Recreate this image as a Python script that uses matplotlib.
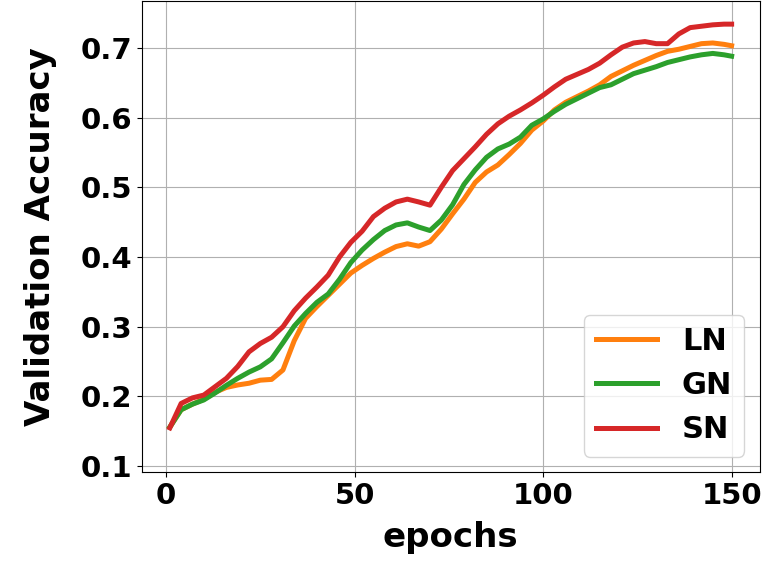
import matplotlib
matplotlib.use("Agg")
import matplotlib.pyplot as plt

epochs = [1, 4, 7, 10, 13, 16, 19, 22, 25, 28, 31, 34, 37, 40, 43, 46, 49, 52, 55, 58,
          61, 64, 67, 70, 73, 76, 79, 82, 85, 88, 91, 94, 97, 100, 103, 106, 109, 112, 115, 118,
          121, 124, 127, 130, 133, 136, 139, 142, 145, 148, 150]

ln_acc = [0.156, 0.181, 0.189, 0.196, 0.206, 0.213, 0.2165, 0.219, 0.2234, 0.2245,
          0.238, 0.280, 0.312, 0.329, 0.345, 0.361, 0.377, 0.388, 0.398, 0.407,
          0.415, 0.419, 0.4156, 0.422, 0.440, 0.462, 0.483, 0.507, 0.522, 0.532,
          0.547, 0.563, 0.582, 0.595, 0.611, 0.622, 0.630, 0.638, 0.647, 0.659,
          0.667, 0.675, 0.682, 0.689, 0.695, 0.698, 0.702, 0.706, 0.707, 0.705, 0.703]

gn_acc = [0.156, 0.181, 0.189, 0.195, 0.205, 0.216, 0.226, 0.235, 0.2425, 0.254,
          0.277, 0.301, 0.319, 0.335, 0.347, 0.368, 0.392, 0.410, 0.425, 0.438,
          0.446, 0.449, 0.443, 0.438, 0.453, 0.475, 0.504, 0.525, 0.543, 0.555,
          0.562, 0.572, 0.589, 0.598, 0.609, 0.619, 0.627, 0.635, 0.643, 0.647,
          0.655, 0.663, 0.668, 0.673, 0.679, 0.683, 0.687, 0.690, 0.692, 0.690, 0.688]

sn_acc = [0.155, 0.190, 0.198, 0.202, 0.214, 0.226, 0.243, 0.264, 0.276, 0.285,
          0.300, 0.323, 0.341, 0.357, 0.374, 0.400, 0.421, 0.437, 0.458, 0.470,
          0.479, 0.483, 0.479, 0.4744, 0.500, 0.524, 0.541, 0.558, 0.576, 0.591,
          0.602, 0.611, 0.621, 0.632, 0.644, 0.655, 0.662, 0.669, 0.678, 0.690,
          0.701, 0.707, 0.709, 0.706, 0.706, 0.720, 0.729, 0.731, 0.733, 0.734, 0.734]

fig = plt.figure(figsize=(7.62, 5.63), dpi=100)
ax = fig.add_axes([0.186, 0.162, 0.811, 0.836])

ax.plot(epochs, ln_acc, color='tab:orange', lw=3.6, label='LN')
ax.plot(epochs, gn_acc, color='tab:green', lw=3.6, label='GN')
ax.plot(epochs, sn_acc, color='tab:red', lw=3.6, label='SN')

ax.set_ylim(0.092, 0.767)
ax.set_xticks([0, 50, 100, 150])
ax.set_yticks([0.1, 0.2, 0.3, 0.4, 0.5, 0.6, 0.7])
ax.grid(True)
ax.set_xlabel('epochs', fontsize=24.5, fontweight='bold', labelpad=8)
ax.set_ylabel('Validation Accuracy', fontsize=24.5, fontweight='bold', labelpad=17)
for lbl in ax.get_xticklabels() + ax.get_yticklabels():
    lbl.set_fontsize(21)
    lbl.set_fontweight('bold')

ax.legend(loc='lower right', prop={'size': 22, 'weight': 'bold'}, handlelength=2.0)

fig.savefig('out.png', dpi=100)
